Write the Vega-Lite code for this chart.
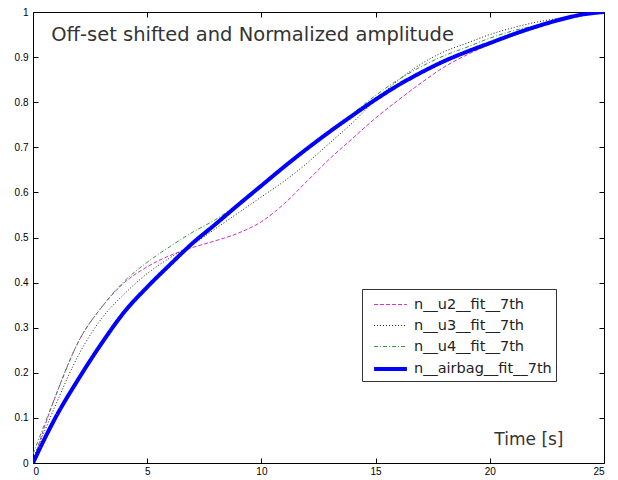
{
  "$schema": "https://vega.github.io/schema/vega-lite/v6.json",
  "autosize": "none",
  "width": 571,
  "height": 451,
  "padding": {"left": 33, "top": 12, "right": 14, "bottom": 17},
  "background": "white",
  "config": {
    "view": {"stroke": "black", "strokeWidth": 1},
    "font": "Liberation Sans",
    "axis": {"grid": false, "domain": false, "ticks": true, "tickSize": -5, "tickColor": "black", "labelColor": "black", "labelFont": "Liberation Sans", "labelFontSize": 10, "title": null}
  },
  "datasets": {
    "curves": [
      {"t": 0, "v": 0.0, "s": "n__u2__fit__7th"},
      {"t": 0.5, "v": 0.08, "s": "n__u2__fit__7th"},
      {"t": 1, "v": 0.15, "s": "n__u2__fit__7th"},
      {"t": 2, "v": 0.27, "s": "n__u2__fit__7th"},
      {"t": 3, "v": 0.345, "s": "n__u2__fit__7th"},
      {"t": 4, "v": 0.4, "s": "n__u2__fit__7th"},
      {"t": 5, "v": 0.435, "s": "n__u2__fit__7th"},
      {"t": 6, "v": 0.46, "s": "n__u2__fit__7th"},
      {"t": 7, "v": 0.478, "s": "n__u2__fit__7th"},
      {"t": 8, "v": 0.493, "s": "n__u2__fit__7th"},
      {"t": 9, "v": 0.51, "s": "n__u2__fit__7th"},
      {"t": 10, "v": 0.535, "s": "n__u2__fit__7th"},
      {"t": 11, "v": 0.575, "s": "n__u2__fit__7th"},
      {"t": 12, "v": 0.625, "s": "n__u2__fit__7th"},
      {"t": 13, "v": 0.675, "s": "n__u2__fit__7th"},
      {"t": 14, "v": 0.72, "s": "n__u2__fit__7th"},
      {"t": 15, "v": 0.765, "s": "n__u2__fit__7th"},
      {"t": 16, "v": 0.805, "s": "n__u2__fit__7th"},
      {"t": 17, "v": 0.843, "s": "n__u2__fit__7th"},
      {"t": 18, "v": 0.878, "s": "n__u2__fit__7th"},
      {"t": 19, "v": 0.905, "s": "n__u2__fit__7th"},
      {"t": 20, "v": 0.928, "s": "n__u2__fit__7th"},
      {"t": 21, "v": 0.948, "s": "n__u2__fit__7th"},
      {"t": 22, "v": 0.965, "s": "n__u2__fit__7th"},
      {"t": 23, "v": 0.98, "s": "n__u2__fit__7th"},
      {"t": 24, "v": 0.993, "s": "n__u2__fit__7th"},
      {"t": 25, "v": 1.0, "s": "n__u2__fit__7th"},

      {"t": 0, "v": 0.01, "s": "n__u3__fit__7th"},
      {"t": 0.5, "v": 0.07, "s": "n__u3__fit__7th"},
      {"t": 1, "v": 0.13, "s": "n__u3__fit__7th"},
      {"t": 2, "v": 0.24, "s": "n__u3__fit__7th"},
      {"t": 3, "v": 0.32, "s": "n__u3__fit__7th"},
      {"t": 4, "v": 0.375, "s": "n__u3__fit__7th"},
      {"t": 5, "v": 0.42, "s": "n__u3__fit__7th"},
      {"t": 6, "v": 0.455, "s": "n__u3__fit__7th"},
      {"t": 7, "v": 0.485, "s": "n__u3__fit__7th"},
      {"t": 8, "v": 0.52, "s": "n__u3__fit__7th"},
      {"t": 9, "v": 0.555, "s": "n__u3__fit__7th"},
      {"t": 10, "v": 0.59, "s": "n__u3__fit__7th"},
      {"t": 11, "v": 0.625, "s": "n__u3__fit__7th"},
      {"t": 12, "v": 0.665, "s": "n__u3__fit__7th"},
      {"t": 13, "v": 0.71, "s": "n__u3__fit__7th"},
      {"t": 14, "v": 0.755, "s": "n__u3__fit__7th"},
      {"t": 15, "v": 0.805, "s": "n__u3__fit__7th"},
      {"t": 16, "v": 0.849, "s": "n__u3__fit__7th"},
      {"t": 17, "v": 0.885, "s": "n__u3__fit__7th"},
      {"t": 18, "v": 0.912, "s": "n__u3__fit__7th"},
      {"t": 19, "v": 0.931, "s": "n__u3__fit__7th"},
      {"t": 20, "v": 0.95, "s": "n__u3__fit__7th"},
      {"t": 21, "v": 0.965, "s": "n__u3__fit__7th"},
      {"t": 22, "v": 0.977, "s": "n__u3__fit__7th"},
      {"t": 23, "v": 0.986, "s": "n__u3__fit__7th"},
      {"t": 24, "v": 0.995, "s": "n__u3__fit__7th"},
      {"t": 25, "v": 1.0, "s": "n__u3__fit__7th"},

      {"t": 0, "v": 0.02, "s": "n__u4__fit__7th"},
      {"t": 0.5, "v": 0.085, "s": "n__u4__fit__7th"},
      {"t": 1, "v": 0.15, "s": "n__u4__fit__7th"},
      {"t": 2, "v": 0.27, "s": "n__u4__fit__7th"},
      {"t": 3, "v": 0.345, "s": "n__u4__fit__7th"},
      {"t": 4, "v": 0.403, "s": "n__u4__fit__7th"},
      {"t": 5, "v": 0.445, "s": "n__u4__fit__7th"},
      {"t": 6, "v": 0.48, "s": "n__u4__fit__7th"},
      {"t": 7, "v": 0.512, "s": "n__u4__fit__7th"},
      {"t": 8, "v": 0.54, "s": "n__u4__fit__7th"},
      {"t": 9, "v": 0.575, "s": "n__u4__fit__7th"},
      {"t": 10, "v": 0.614, "s": "n__u4__fit__7th"},
      {"t": 11, "v": 0.654, "s": "n__u4__fit__7th"},
      {"t": 12, "v": 0.695, "s": "n__u4__fit__7th"},
      {"t": 13, "v": 0.735, "s": "n__u4__fit__7th"},
      {"t": 14, "v": 0.775, "s": "n__u4__fit__7th"},
      {"t": 15, "v": 0.815, "s": "n__u4__fit__7th"},
      {"t": 16, "v": 0.85, "s": "n__u4__fit__7th"},
      {"t": 17, "v": 0.879, "s": "n__u4__fit__7th"},
      {"t": 18, "v": 0.903, "s": "n__u4__fit__7th"},
      {"t": 19, "v": 0.922, "s": "n__u4__fit__7th"},
      {"t": 20, "v": 0.942, "s": "n__u4__fit__7th"},
      {"t": 21, "v": 0.958, "s": "n__u4__fit__7th"},
      {"t": 22, "v": 0.97, "s": "n__u4__fit__7th"},
      {"t": 23, "v": 0.982, "s": "n__u4__fit__7th"},
      {"t": 24, "v": 0.993, "s": "n__u4__fit__7th"},
      {"t": 25, "v": 1.0, "s": "n__u4__fit__7th"},

      {"t": 0, "v": 0.0, "s": "n__airbag__fit__7th"},
      {"t": 0.5, "v": 0.053, "s": "n__airbag__fit__7th"},
      {"t": 1, "v": 0.102, "s": "n__airbag__fit__7th"},
      {"t": 2, "v": 0.187, "s": "n__airbag__fit__7th"},
      {"t": 3, "v": 0.265, "s": "n__airbag__fit__7th"},
      {"t": 4, "v": 0.335, "s": "n__airbag__fit__7th"},
      {"t": 5, "v": 0.39, "s": "n__airbag__fit__7th"},
      {"t": 6, "v": 0.44, "s": "n__airbag__fit__7th"},
      {"t": 7, "v": 0.488, "s": "n__airbag__fit__7th"},
      {"t": 8, "v": 0.53, "s": "n__airbag__fit__7th"},
      {"t": 9, "v": 0.573, "s": "n__airbag__fit__7th"},
      {"t": 10, "v": 0.615, "s": "n__airbag__fit__7th"},
      {"t": 11, "v": 0.657, "s": "n__airbag__fit__7th"},
      {"t": 12, "v": 0.697, "s": "n__airbag__fit__7th"},
      {"t": 13, "v": 0.735, "s": "n__airbag__fit__7th"},
      {"t": 14, "v": 0.771, "s": "n__airbag__fit__7th"},
      {"t": 15, "v": 0.806, "s": "n__airbag__fit__7th"},
      {"t": 16, "v": 0.838, "s": "n__airbag__fit__7th"},
      {"t": 17, "v": 0.866, "s": "n__airbag__fit__7th"},
      {"t": 18, "v": 0.891, "s": "n__airbag__fit__7th"},
      {"t": 19, "v": 0.912, "s": "n__airbag__fit__7th"},
      {"t": 20, "v": 0.931, "s": "n__airbag__fit__7th"},
      {"t": 21, "v": 0.95, "s": "n__airbag__fit__7th"},
      {"t": 22, "v": 0.967, "s": "n__airbag__fit__7th"},
      {"t": 23, "v": 0.982, "s": "n__airbag__fit__7th"},
      {"t": 24, "v": 0.994, "s": "n__airbag__fit__7th"},
      {"t": 25, "v": 1.0, "s": "n__airbag__fit__7th"}
    ],
    "note1": [
      {"t": 0.8, "v": 0.95, "label": "Off-set shifted and Normalized amplitude"}
    ],
    "note2": [
      {"t": 20.2, "v": 0.05, "label": "Time [s]"}
    ]
  },
  "layer": [
    {
      "data": {"name": "curves"},
      "mark": {"type": "line", "clip": true, "interpolate": "monotone"},
      "encoding": {
        "x": {"field": "t", "type": "quantitative", "scale": {"domain": [0, 25], "nice": false, "zero": false}, "axis": {"values": [0, 5, 10, 15, 20, 25], "orient": "bottom", "labelPadding": 8}},
        "y": {"field": "v", "type": "quantitative", "scale": {"domain": [0, 1], "nice": false}, "axis": {"values": [0, 0.1, 0.2, 0.3, 0.4, 0.5, 0.6, 0.7, 0.8, 0.9, 1], "orient": "left", "labelPadding": 10, "labelExpr": "datum.value == 0 ? '0' : datum.value == 1 ? '1' : format(datum.value, '.1f')"}},
        "color": {
          "field": "s", "type": "nominal", "title": null,
          "scale": {"domain": ["n__u2__fit__7th", "n__u3__fit__7th", "n__u4__fit__7th", "n__airbag__fit__7th"], "range": ["#cc33cc", "#222222", "#33993a", "#0000ff"]},
          "legend": {"orient": "none", "legendX": 329, "legendY": 277, "direction": "vertical", "symbolType": "M-0.45,0H2.55", "symbolSize": 480, "symbolFillColor": "transparent", "labelFont": "DejaVu Sans", "labelFontSize": 14.5, "labelColor": "#222222", "rowPadding": 3, "padding": 4, "strokeColor": "#333333", "fillColor": "white", "labelOffset": 22, "offset": 0}
        },
        "strokeDash": {
          "field": "s", "type": "nominal", "title": null,
          "scale": {"domain": ["n__u2__fit__7th", "n__u3__fit__7th", "n__u4__fit__7th", "n__airbag__fit__7th"], "range": [[4, 2], [1, 2], [4, 2, 1, 2], [1, 0]]}
        },
        "strokeWidth": {
          "field": "s", "type": "ordinal", "title": null,
          "scale": {"type": "ordinal", "domain": ["n__u2__fit__7th", "n__u3__fit__7th", "n__u4__fit__7th", "n__airbag__fit__7th"], "range": [1, 1, 1, 4]}
        },
        "order": {"field": "t", "type": "quantitative"}
      }
    },
    {
      "data": {"name": "note1"},
      "mark": {"type": "text", "align": "left", "baseline": "middle", "fontSize": 19.5, "font": "DejaVu Sans", "color": "#333333"},
      "encoding": {
        "x": {"field": "t", "type": "quantitative", "axis": null},
        "y": {"field": "v", "type": "quantitative", "axis": null},
        "text": {"field": "label"}
      }
    },
    {
      "data": {"name": "note2"},
      "mark": {"type": "text", "align": "left", "baseline": "middle", "fontSize": 17, "font": "DejaVu Sans", "color": "#333333"},
      "encoding": {
        "x": {"field": "t", "type": "quantitative", "axis": null},
        "y": {"field": "v", "type": "quantitative", "axis": null},
        "text": {"field": "label"}
      }
    },
    {
      "data": {"values": [{"t": 0, "v": 0}]},
      "mark": {"type": "point", "opacity": 0},
      "encoding": {
        "x": {"field": "t", "type": "quantitative", "axis": {"orient": "top", "values": [0, 5, 10, 15, 20, 25], "labels": false}},
        "y": {"field": "v", "type": "quantitative", "axis": {"orient": "right", "values": [0, 0.1, 0.2, 0.3, 0.4, 0.5, 0.6, 0.7, 0.8, 0.9, 1], "labels": false}}
      }
    }
  ],
  "resolve": {"axis": {"x": "independent", "y": "independent"}}
}
